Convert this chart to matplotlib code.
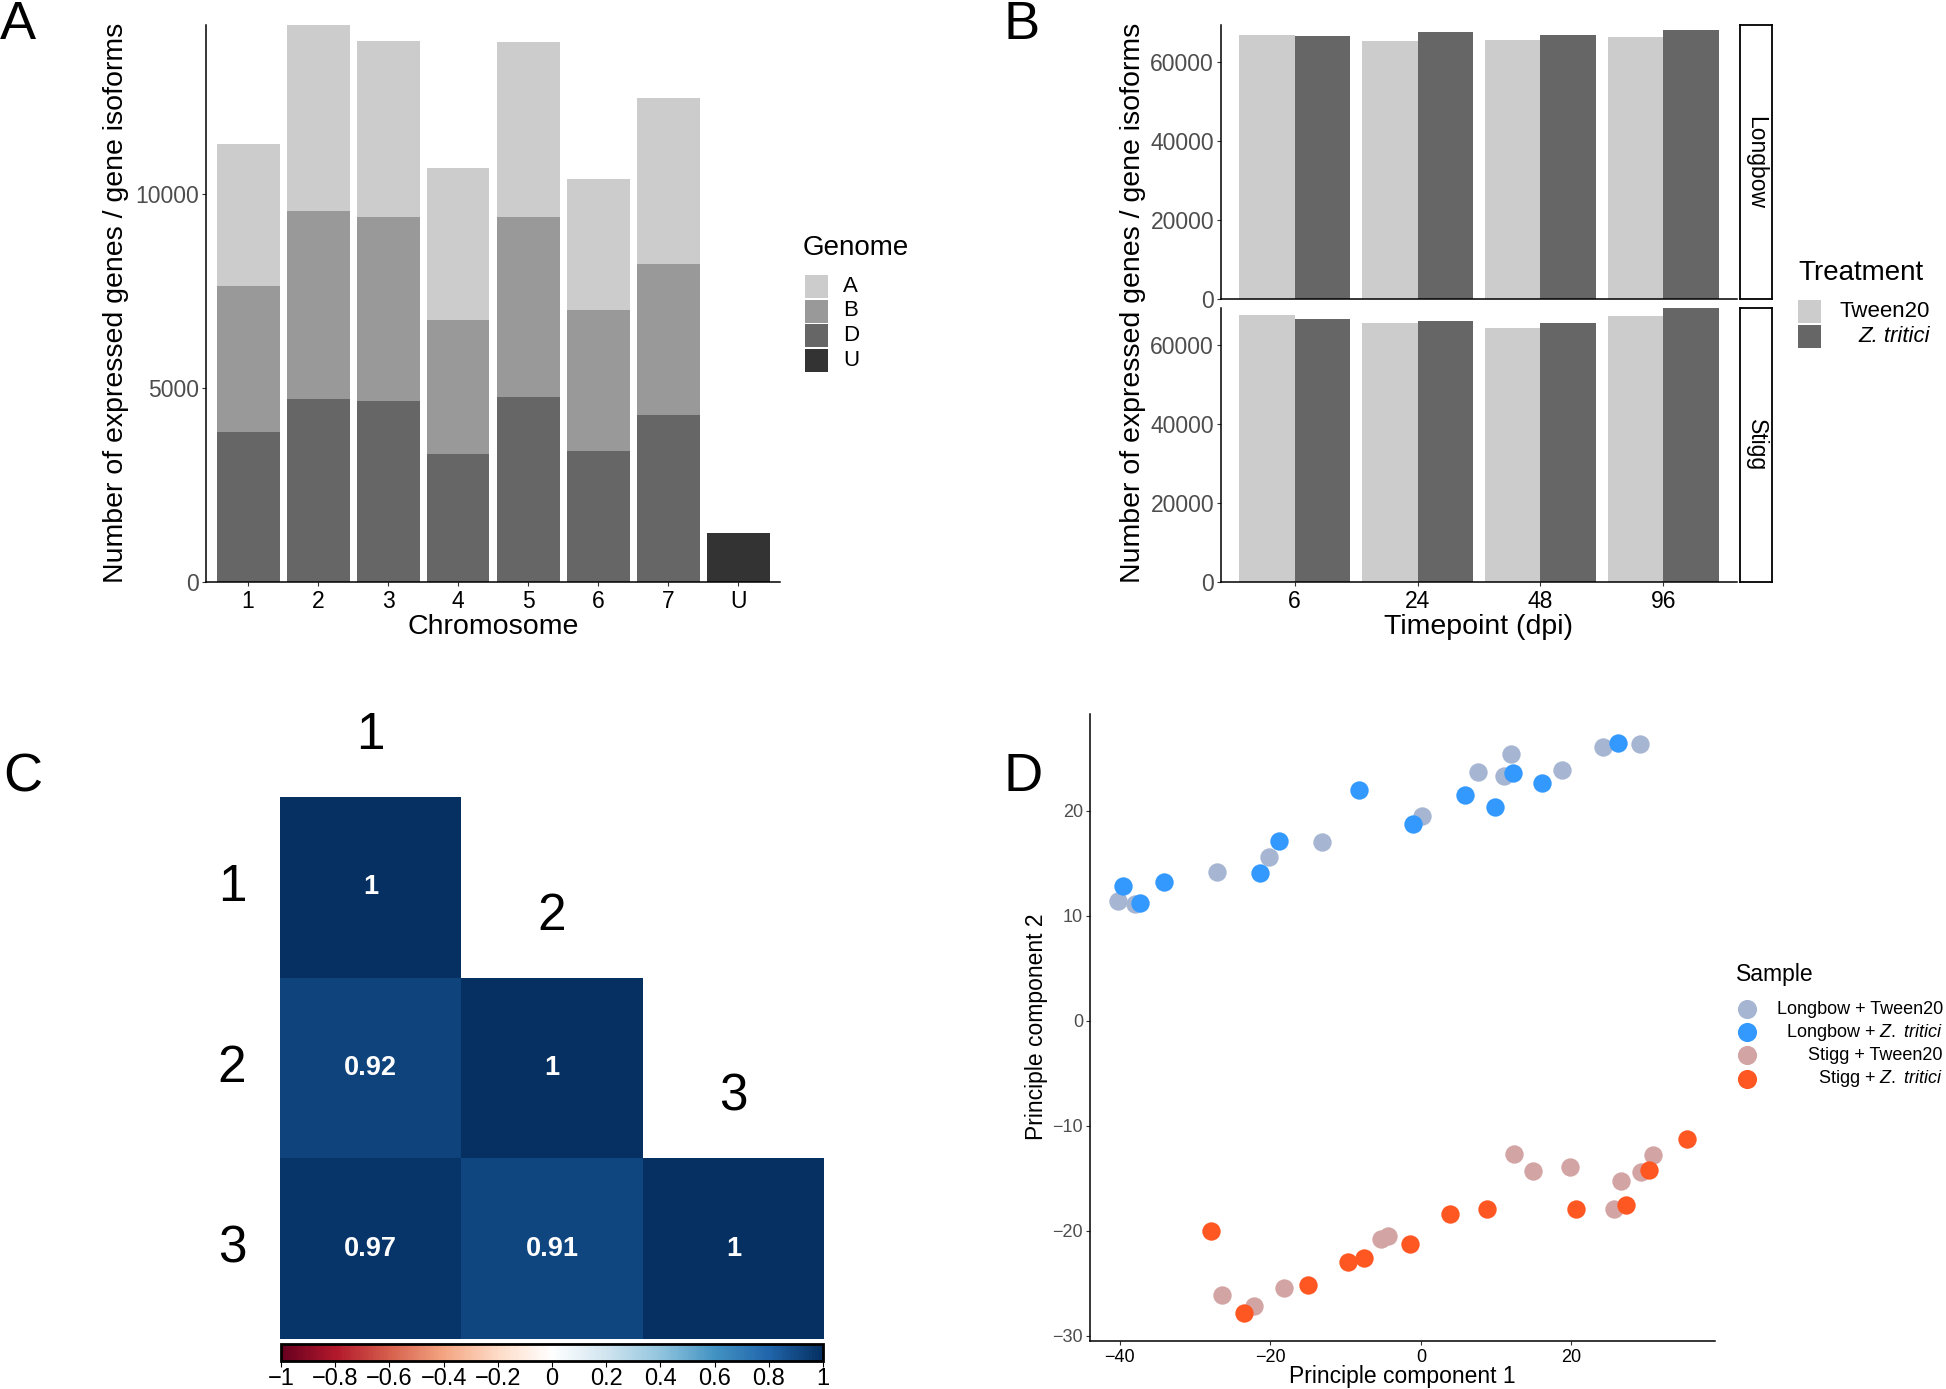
import numpy as np
import matplotlib
matplotlib.use('Agg')
import matplotlib.pyplot as plt
from matplotlib.colors import LinearSegmentedColormap, Normalize
from matplotlib.cm import ScalarMappable

plt.rcParams['font.family'] = ['Liberation Sans', 'DejaVu Sans']
plt.rcParams['mathtext.fontset'] = 'custom'
plt.rcParams['mathtext.rm'] = 'Liberation Sans'
plt.rcParams['mathtext.it'] = 'Liberation Sans:italic'

# ---- panel A: expressed genes per chromosome, stacked by genome
chromosomes = ['1', '2', '3', '4', '5', '6', '7', 'U']
genome_D = [3857, 4712, 4658, 3291, 4765, 3376, 4306, 0]
genome_B = [3761, 4839, 4754, 3461, 4647, 3622, 3878, 0]
genome_A = [3675, 4797, 4520, 3910, 4509, 3376, 4284, 0]
genome_U = [0, 0, 0, 0, 0, 0, 0, 1261]

# ---- panel B: expressed genes per timepoint / treatment
timepoints = ['6', '24', '48', '96']
longbow_tween = [66947, 65474, 65789, 66316]
longbow_zt = [66737, 67684, 67053, 68211]
stigg_tween = [67578, 65686, 64424, 67368]
stigg_zt = [66737, 66106, 65581, 69469]

# ---- panel C: correlation between replicates
corr_labels = ['1', '2', '3']
corr = [[1.00, 0.92, 0.97],
        [0.92, 1.00, 0.91],
        [0.97, 0.91, 1.00]]

# ---- panel D: PCA
lt_pc1 = [-40.2, -38.0, -27.1, -20.2, -13.2, 0.1, 7.6, 12.0, 11.0, 18.8, 24.2, 29.1]
lt_pc2 = [11.4, 11.1, 14.2, 15.6, 17.0, 19.5, 23.7, 25.4, 23.3, 23.9, 26.1, 26.4]
lz_pc1 = [-39.6, -37.3, -34.1, -21.4, -18.9, -8.2, -1.1, 5.9, 9.8, 12.2, 16.1, 26.2]
lz_pc2 = [12.8, 11.2, 13.2, 14.1, 17.1, 22.0, 18.7, 21.5, 20.4, 23.6, 22.6, 26.5]
st_pc1 = [-26.4, -22.2, -18.2, -5.3, -4.4, 12.3, 14.9, 19.8, 25.7, 26.6, 29.2, 30.8]
st_pc2 = [-26.1, -27.2, -25.5, -20.8, -20.5, -12.7, -14.3, -13.9, -17.9, -15.3, -14.4, -12.8]
sz_pc1 = [-27.9, -23.5, -15.0, -9.7, -7.6, -1.4, 3.8, 8.8, 20.6, 27.2, 30.3, 35.3]
sz_pc2 = [-20.0, -27.8, -25.2, -23.0, -22.6, -21.3, -18.4, -17.9, -17.9, -17.6, -14.2, -11.3]

W, H = 1946, 1389
fig = plt.figure(figsize=(W / 100, H / 100), dpi=100)


def box(x0, y0, x1, y1):
    return fig.add_axes([x0 / W, 1 - y1 / H, (x1 - x0) / W, (y1 - y0) / H])


def classic(ax, ysize=16.5, xsize=16.5):
    for s in ['top', 'right']:
        ax.spines[s].set_visible(False)
    for s in ['left', 'bottom']:
        ax.spines[s].set_linewidth(1.1)
    ax.tick_params(axis='both', direction='out', length=3, width=0.8, color='#333333')
    ax.tick_params(axis='y', labelsize=ysize, labelcolor='#4D4D4D', pad=2)
    ax.tick_params(axis='x', labelsize=xsize, labelcolor='black', pad=3)


# ---------------- A
axA = box(206, 25, 780, 582)
xa = np.arange(1, len(chromosomes) + 1)
bottom = np.zeros(len(chromosomes))
for vals, col in [(genome_D, '#666666'), (genome_B, '#999999'),
                  (genome_A, '#CCCCCC'), (genome_U, '#333333')]:
    axA.bar(xa, vals, 0.9, bottom=bottom, color=col, linewidth=0)
    bottom += np.array(vals)
axA.set_xlim(0.4, 8.6)
axA.set_ylim(0, bottom.max())
axA.set_xticks(xa, chromosomes)
axA.set_yticks([0, 5000, 10000])
classic(axA)

# ---------------- B
xb = np.arange(1, len(timepoints) + 1)
ymaxB = max(longbow_tween + longbow_zt + stigg_tween + stigg_zt)
facets = [('Longbow', longbow_tween, longbow_zt, (25, 299)),
          ('Stigg', stigg_tween, stigg_zt, (308, 582))]
for name, tw, zt, (y0, y1) in facets:
    ax = box(1221, y0, 1737, y1)
    ax.bar(xb - 0.225, tw, 0.45, color='#CCCCCC', linewidth=0)
    ax.bar(xb + 0.225, zt, 0.45, color='#666666', linewidth=0)
    ax.set_xlim(0.4, 4.6)
    ax.set_ylim(0, ymaxB)
    ax.set_yticks([0, 20000, 40000, 60000])
    ax.set_xticks(xb, timepoints)
    classic(ax)
    if name == 'Longbow':
        ax.tick_params(axis='x', bottom=False, labelbottom=False)
    strip = box(1740, y0, 1772, y1)
    strip.set_xticks([])
    strip.set_yticks([])
    for s in strip.spines.values():
        s.set_linewidth(1.3)
    strip.text(0.5, 0.5, name, rotation=-90, ha='center', va='center', fontsize=16.5,
               transform=strip.transAxes)

# ---------------- C
corr_cols = ['#67001F', '#B2182B', '#D6604D', '#F4A582', '#FDDBC7', '#FFFFFF',
             '#D1E5F0', '#92C5DE', '#4393C3', '#2166AC', '#053061']
cmap = LinearSegmentedColormap.from_list('corrRdBu', corr_cols, N=200)
M = np.array(corr)
n = len(corr_labels)
mask = np.triu(np.ones_like(M, dtype=bool), k=1)
axC = box(280, 797, 824, 1339)
axC.pcolormesh(np.arange(n + 1), np.arange(n + 1), np.ma.array(M, mask=mask),
               cmap=cmap, vmin=-1, vmax=1)
axC.set_xlim(0, n)
axC.set_ylim(n, 0)
axC.axis('off')
for i in range(n):
    for j in range(i + 1):
        axC.text(j + 0.5, i + 0.5, f'{M[i, j]:g}', color='white', fontweight='bold',
                 fontsize=19.5, ha='center', va='center')
    axC.text(i + 0.5, i - 0.34, corr_labels[i], fontsize=37, ha='center', va='center',
             clip_on=False)
    axC.text(-0.265, i + 0.5, corr_labels[i], fontsize=37, ha='center', va='center',
             clip_on=False)

cax = box(281, 1344, 823, 1361)
cb = fig.colorbar(ScalarMappable(Normalize(-1, 1), cmap), cax=cax, orientation='horizontal')
ticks = np.round(np.linspace(-1, 1, 11), 1) + 0.0
cb.set_ticks(ticks)
cb.set_ticklabels([('%g' % t).replace('-', '\u2212') for t in ticks])
cb.outline.set_linewidth(2)
cax.tick_params(length=4, width=0.8, labelsize=17, pad=1)

# ---------------- D
axD = box(1090, 714, 1715, 1341)
series = [(lt_pc1, lt_pc2, '#A6B6D2', 'Longbow + Tween20'),
          (lz_pc1, lz_pc2, '#3399FF', r'Longbow + $\mathit{Z.\ tritici}$'),
          (st_pc1, st_pc2, '#D3A4A4', 'Stigg + Tween20'),
          (sz_pc1, sz_pc2, '#FF5722', r'Stigg + $\mathit{Z.\ tritici}$')]
for px, py, col, lab in series:
    axD.scatter(px, py, s=175, color=col, linewidths=0)
allx = np.concatenate([s[0] for s in series])
ally = np.concatenate([s[1] for s in series])
dx, dy = np.ptp(allx) * 0.05, np.ptp(ally) * 0.05
axD.set_xlim(allx.min() - dx, allx.max() + dx)
axD.set_ylim(ally.min() - dy, ally.max() + dy)
axD.set_xticks([-40, -20, 0, 20])
axD.set_yticks([-30, -20, -10, 0, 10, 20])
classic(axD, ysize=13, xsize=13)

# ---------------- overlay for titles, legends and panel letters (pixel coords)
ov = fig.add_axes([0, 0, 1, 1], zorder=10)
ov.set_xlim(0, W)
ov.set_ylim(H, 0)
ov.axis('off')

title_kw = dict(fontsize=20.5, ha='center', va='center')
ov.text(116, 303, 'Number of expressed genes / gene isoforms', rotation=90, **title_kw)
ov.text(493, 627, 'Chromosome', **title_kw)
ov.text(1133, 303, 'Number of expressed genes / gene isoforms', rotation=90, **title_kw)
ov.text(1479, 627, 'Timepoint (dpi)', **title_kw)
ov.text(1036, 1027, 'Principle component 2', rotation=90, fontsize=16.5, ha='center', va='center')
ov.text(1402, 1377, 'Principle component 1', fontsize=16.5, ha='center', va='center')

# legend A
ov.text(803, 248, 'Genome', fontsize=20, ha='left', va='center')
for k, (lab, col) in enumerate(zip(['A', 'B', 'D', 'U'],
                                   ['#CCCCCC', '#999999', '#666666', '#333333'])):
    y = 275 + k * 24.5
    ov.add_patch(plt.Rectangle((805, y), 23, 23, color=col, linewidth=0))
    ov.text(843, y + 11.5, lab, fontsize=16, ha='left', va='center')

# legend B
ov.text(1798, 273, 'Treatment', fontsize=20, ha='left', va='center')
for k, (lab, col, st) in enumerate([('Tween20', '#CCCCCC', 'normal'),
                                    ('Z. tritici', '#666666', 'italic')]):
    y = 300 + k * 24.5
    ov.add_patch(plt.Rectangle((1798, y), 23, 23, color=col, linewidth=0))
    ov.text(1930, y + 11.5, lab, fontsize=16, style=st, ha='right', va='center')

# legend D
ov.text(1736, 975, 'Sample', fontsize=16.5, ha='left', va='center')
for k, (px, py, col, lab) in enumerate(series):
    y = 1009 + k * 23.2
    ov.scatter([1747], [y], s=190, color=col, linewidths=0)
    ov.text(1943, y, lab, fontsize=13, ha='right', va='center')

# panel letters
for letter, x, y in [('A', 0, 39), ('B', 1003, 39), ('C', 3, 791), ('D', 1003, 791)]:
    ov.text(x, y, letter, fontsize=39, ha='left', va='baseline')

fig.savefig('out.png', dpi=100)
